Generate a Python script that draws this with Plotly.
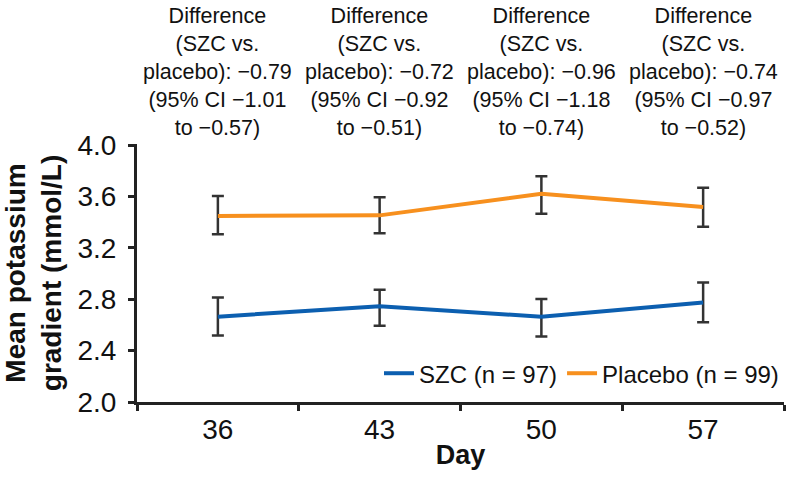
import plotly.graph_objects as go

days = ["36", "43", "50", "57"]

szc_mean = [2.665, 2.745, 2.665, 2.776]
szc_upper = [2.815, 2.875, 2.802, 2.931]
szc_lower = [2.518, 2.595, 2.510, 2.621]

pbo_mean = [3.449, 3.454, 3.622, 3.519]
pbo_upper = [3.604, 3.596, 3.759, 3.669]
pbo_lower = [3.307, 3.315, 3.467, 3.366]

diffs = ["−0.79", "−0.72", "−0.96", "−0.74"]
ci_low = ["−1.01", "−0.92", "−1.18", "−0.97"]
ci_high = ["−0.57", "−0.51", "−0.74", "−0.52"]

FONT = "Liberation Sans, Arial, sans-serif"
AXIS = "#222222"

fig = go.Figure()


def add_series(name, mean, upper, lower, color):
    fig.add_trace(go.Scatter(
        x=days, y=mean, name=name, mode="lines",
        line=dict(color=color, width=4),
        error_y=dict(
            type="data", symmetric=False,
            array=[u - m for u, m in zip(upper, mean)],
            arrayminus=[m - l for m, l in zip(mean, lower)],
            color="#333333", thickness=2.5, width=6,
        ),
    ))


add_series("SZC (n = 97)", szc_mean, szc_upper, szc_lower, "#0c5fb0")
add_series("Placebo (n = 99)", pbo_mean, pbo_upper, pbo_lower, "#f7901e")

# category axis: place the notes by category index
for i, (df, lo, hi) in enumerate(zip(diffs, ci_low, ci_high)):
    fig.add_annotation(
        x=i, xref="x", y=1, yref="paper", yanchor="bottom", yshift=2,
        showarrow=False, align="center",
        text=f"Difference<br>(SZC vs.<br>placebo): {df}<br>(95% CI {lo}<br>to {hi})",
        font=dict(size=21.5, color="#111111", family=FONT),
    )

fig.update_layout(
    width=789, height=477,
    margin=dict(l=137, r=5, t=144, b=75),
    paper_bgcolor="white", plot_bgcolor="white",
    font=dict(family=FONT, color="#111111"),
    showlegend=True,
    legend=dict(
        orientation="h", x=1, xanchor="right", y=0.11, yanchor="middle",
        font=dict(size=24, color="#111111"), bgcolor="rgba(0,0,0,0)",
        itemwidth=30, tracegroupgap=0,
    ),
    xaxis=dict(
        type="category", range=[-0.5, 3.5], tickson="boundaries",
        showgrid=False, zeroline=False, automargin=False,
        showline=True, linecolor=AXIS, linewidth=3,
        ticks="outside", ticklen=6, tickwidth=3, tickcolor=AXIS,
        tickfont=dict(size=28, color="#111111"),
        title=dict(text="<b>Day</b>", font=dict(size=27, color="#111111"), standoff=2),
    ),
    yaxis=dict(
        range=[2.0, 4.01], tickvals=[2.0, 2.4, 2.8, 3.2, 3.6, 4.0],
        tickformat=".1f",
        showgrid=False, zeroline=False, automargin=False,
        showline=True, linecolor=AXIS, linewidth=3,
        ticks="outside", ticklen=6, tickwidth=3, tickcolor=AXIS,
        ticklabelstandoff=6,
        tickfont=dict(size=28, color="#111111"),
        title=dict(text="<b>Mean potassium<br>gradient (mmol/L)</b>",
                   font=dict(size=28, color="#111111"), standoff=22),
    ),
)

# drop the browser's default body margin so the figure fills the window
fig.write_html("out.html", config={"displayModeBar": False},
               post_script="document.body.style.margin='0';")
